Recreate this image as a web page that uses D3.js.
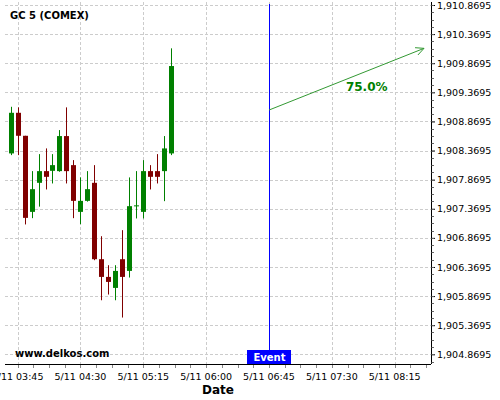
<!DOCTYPE html>
<html>
<head>
<meta charset="utf-8">
<script src="https://cdn.jsdelivr.net/npm/d3@7"></script>
<style>
  body { margin: 0; background: #fff; }
  text { font-family: "DejaVu Sans", sans-serif; }
</style>
</head>
<body>
<svg id="chart" width="500" height="400"></svg>
<script>
// 5-minute candles, GC 5 (COMEX), 5/11
const times  = ["03:40","03:45","03:50","03:55","04:00","04:05","04:10","04:15","04:20","04:25","04:30","04:35",
                "04:40","04:45","04:50","04:55","05:00","05:05","05:10","05:15","05:20","05:25","05:30","05:35"];
const opens  = [1908.320,1909.018,1908.623,1907.316,1907.815,1908.016,1908.021,1908.016,1908.618,1908.119,1907.316,1907.505,
                1907.815,1906.503,1906.199,1906.010,1906.503,1906.302,1907.418,1907.316,1908.016,1908.016,1908.016,1908.320];
const highs  = [1909.121,1909.111,1908.623,1908.016,1908.308,1908.406,1908.308,1908.721,1909.111,1908.205,1907.908,1908.016,
                1908.119,1906.898,1906.400,1906.400,1907.002,1907.908,1908.016,1908.205,1908.119,1908.308,1908.618,1910.125];
const lows   = [1908.291,1908.291,1907.100,1907.208,1907.406,1907.701,1907.804,1908.005,1907.804,1907.208,1907.105,1907.492,
                1906.486,1905.798,1905.896,1905.798,1905.501,1906.188,1907.203,1907.203,1907.701,1907.804,1907.500,1908.291];
const closes = [1909.018,1908.623,1907.213,1907.706,1908.016,1907.918,1908.119,1908.618,1908.016,1907.505,1907.505,1907.706,
                1906.503,1906.199,1906.113,1906.302,1906.199,1907.414,1907.428,1908.016,1907.918,1907.918,1908.406,1909.821];

const yTickValues = [1904.8695,1905.3695,1905.8695,1906.3695,1906.8695,1907.3695,1907.8695,
                     1908.3695,1908.8695,1909.3695,1909.8695,1910.3695,1910.8695];
const xTickTimes = ["03:45","04:30","05:15","06:00","06:45","07:30","08:15"];

const eventTime = "06:45";
const arrowTimes = ["06:45","08:36"];
const arrowValues = [1909.065, 1910.125];
const probLabel = "75.0%";
const probTime = "07:55";
const probValue = 1909.39;

const parse = d3.timeParse("%H:%M");
const fmtX = d3.timeFormat("5/11 %H:%M");
const fmtY = d3.format(",.4f");

const pLeft = 5, pRight = 431, pTop = 2, pBottom = 364;
const x = d3.scaleTime().domain([parse("03:36"), parse("08:41")]).range([pLeft, pRight]);
const y = d3.scaleLinear().domain([1904.703, 1910.921]).range([pBottom, pTop]);

const svg = d3.select("#chart");

// grid
const grid = svg.append("g").attr("stroke", "#cccccc").attr("stroke-dasharray", "3,2").attr("stroke-width", 1);
grid.selectAll("line.h").data(yTickValues).enter().append("line")
  .attr("x1", pLeft).attr("x2", pRight)
  .attr("y1", d => Math.round(y(d)) + 0.5).attr("y2", d => Math.round(y(d)) + 0.5);
grid.selectAll("line.v").data(xTickTimes).enter().append("line")
  .attr("x1", d => Math.round(x(parse(d))) + 0.5).attr("x2", d => Math.round(x(parse(d))) + 0.5)
  .attr("y1", pTop).attr("y2", pBottom);

// candles
const candles = times.map((t, i) => ({ t: parse(t), o: opens[i], h: highs[i], l: lows[i], c: closes[i] }));
const cg = svg.append("g");
cg.selectAll("line").data(candles).enter().append("line")
  .attr("x1", d => Math.round(x(d.t)) + 0.5).attr("x2", d => Math.round(x(d.t)) + 0.5)
  .attr("y1", d => y(d.h)).attr("y2", d => y(d.l))
  .attr("stroke", d => d.c >= d.o ? "#008000" : "#800000").attr("stroke-width", 1);
cg.selectAll("rect").data(candles).enter().append("rect")
  .attr("x", d => Math.round(x(d.t)) - 2)
  .attr("width", 5)
  .attr("y", d => y(Math.max(d.o, d.c)))
  .attr("height", d => Math.max(1, Math.abs(y(d.o) - y(d.c))))
  .attr("fill", d => d.c >= d.o ? "#008000" : "#800000");

// event line
const ex = Math.round(x(parse(eventTime))) + 0.5;
svg.append("line").attr("x1", ex).attr("x2", ex).attr("y1", pTop + 2).attr("y2", pBottom)
  .attr("stroke", "#0000ff").attr("stroke-width", 1);
svg.append("rect").attr("x", ex - 22.5).attr("y", 350).attr("width", 44).attr("height", 14).attr("fill", "#0000ff");
svg.append("text").attr("x", ex).attr("y", 360.5).attr("text-anchor", "middle")
  .attr("font-size", 10).attr("font-weight", "bold").attr("fill", "#fff").text("Event");

// arrow
const ax1 = x(parse(arrowTimes[0])), ay1 = y(arrowValues[0]);
const ax2 = x(parse(arrowTimes[1])), ay2 = y(arrowValues[1]);
const ang = Math.atan2(ay2 - ay1, ax2 - ax1);
const ag = svg.append("g").attr("stroke", "#339933").attr("stroke-width", 1).attr("fill", "none");
ag.append("line").attr("x1", ax1).attr("y1", ay1).attr("x2", ax2).attr("y2", ay2);
const hl = 9, ha = 0.45;
ag.append("path").attr("d",
  `M${ax2 - hl * Math.cos(ang - ha)},${ay2 - hl * Math.sin(ang - ha)}L${ax2},${ay2}L${ax2 - hl * Math.cos(ang + ha)},${ay2 - hl * Math.sin(ang + ha)}`);
svg.append("text").attr("x", x(parse(probTime))).attr("y", y(probValue)).attr("text-anchor", "middle")
  .attr("font-size", 12).attr("font-weight", "bold").attr("fill", "#008000").text(probLabel);

// axes
const yAxis = d3.axisRight(y).tickValues(yTickValues).tickFormat(fmtY).tickSize(4).tickPadding(2);
const ya = svg.append("g").attr("transform", `translate(${pRight},0)`).call(yAxis);
ya.select(".domain").attr("d", `M0.5,${pTop}V${pBottom}`).attr("stroke", "#000");
ya.selectAll("text").attr("font-size", 9.5).attr("font-family", "DejaVu Sans").attr("fill", "#000");
const yMinor = d3.range(0, 50).map(i => 1904.8695 - 0.125 + i * 0.125).filter(v => y(v) >= pTop && y(v) <= pBottom);
ya.selectAll("line.minor").data(yMinor).enter().append("line")
  .attr("x1", 0.5).attr("x2", 3).attr("y1", d => Math.round(y(d)) + 0.5).attr("y2", d => Math.round(y(d)) + 0.5)
  .attr("stroke", "#666");

const xa = svg.append("g").attr("transform", `translate(0,${pBottom})`);
xa.append("line").attr("x1", pLeft).attr("x2", pRight).attr("y1", 0.5).attr("y2", 0.5).attr("stroke", "#000");
const step = (x(parse("04:30")) - x(parse("03:45"))) / 4;
const xMinorPos = d3.range(-1, 28).map(i => x(parse("03:45")) + i * step).filter(v => v >= pLeft && v <= pRight);
xa.selectAll("line.minor").data(xMinorPos).enter().append("line")
  .attr("x1", d => Math.round(d) + 0.5).attr("x2", d => Math.round(d) + 0.5).attr("y1", 1).attr("y2", 4)
  .attr("stroke", "#888");
xa.selectAll("text").data(xTickTimes).enter().append("text")
  .attr("x", d => x(parse(d))).attr("y", 15.5).attr("text-anchor", "middle")
  .attr("font-size", 9.5).attr("fill", "#000").text(d => fmtX(parse(d)));

// labels
svg.append("text").attr("x", 10).attr("y", 19).attr("font-size", 10).attr("font-weight", "bold").text("GC 5 (COMEX)");
svg.append("text").attr("x", 15).attr("y", 357).attr("font-size", 10).attr("font-weight", "bold").text("www.delkos.com");
svg.append("text").attr("x", (pLeft + pRight) / 2).attr("y", 394).attr("text-anchor", "middle")
  .attr("font-size", 12).attr("font-weight", "bold").text("Date");
</script>
</body>
</html>
